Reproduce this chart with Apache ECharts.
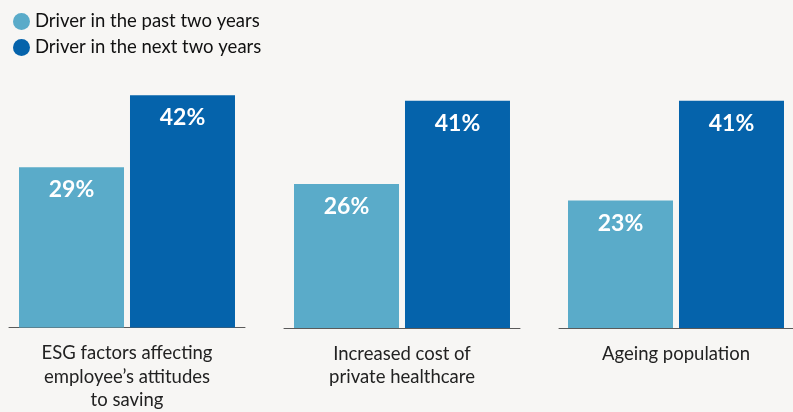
<!DOCTYPE html>
<html>
<head>
<meta charset="utf-8">
<script src="https://cdn.jsdelivr.net/npm/echarts@6/dist/echarts.min.js"></script>
<style>
  html, body { margin: 0; padding: 0; background: #f7f6f4; }
  #chart { width: 793px; height: 412px; }
</style>
</head>
<body>
<div id="chart"></div>
<script>
// Drivers of change: share of respondents, by period
const categories = [
  'ESG factors affecting\nemployee\u2019s attitudes\nto saving',
  'Increased cost of\nprivate healthcare',
  'Ageing population'
];
const seriesNames = ['Driver in the past two years', 'Driver in the next two years'];
const pastTwoYears = [29, 26, 23];
const nextTwoYears = [42, 41, 41];

const colors = ['#5aabc9', '#0563ab'];
const fontFamily = 'Lato, "Open Sans", sans-serif';

// one panel per category, so each gets its own baseline segment
const grids = [], xAxes = [], yAxes = [], series = [];
categories.forEach((cat, i) => {
  grids.push({ left: 9 + i * 275, top: 51, width: 236, height: 277 });
  xAxes.push({
    type: 'category', gridIndex: i, data: [cat],
    axisLine: { show: true, lineStyle: { color: '#5a5a5a', width: 1 } },
    axisTick: { show: false },
    axisLabel: { color: '#222', fontSize: 18.5, lineHeight: 23.5, margin: 14, fontFamily, interval: 0 }
  });
  yAxes.push({
    type: 'value', gridIndex: i, min: 0, max: 50, show: false, splitLine: { show: false }
  });
  [pastTwoYears, nextTwoYears].forEach((vals, s) => {
    series.push({
      type: 'bar', name: seriesNames[s], xAxisIndex: i, yAxisIndex: i,
      data: [vals[i]], barWidth: 105, barGap: '5.7%',
      itemStyle: { color: colors[s] },
      label: {
        show: true, position: 'insideTop', distance: 11,
        formatter: '{c}%', color: '#fff', fontSize: 23, fontWeight: 'bold', fontFamily
      },
      emphasis: { disabled: true }
    });
  });
});

const chart = echarts.init(document.getElementById('chart'));
chart.setOption({
  backgroundColor: '#f7f6f4',
  animation: false,
  color: colors,
  legend: {
    orient: 'vertical', left: 8, top: 7,
    icon: 'circle', itemWidth: 17, itemHeight: 17, itemGap: 7,
    textStyle: { color: '#111', fontSize: 18.5, fontFamily, padding: [0, 0, 0, 0] },
    data: seriesNames
  },
  grid: grids,
  xAxis: xAxes,
  yAxis: yAxes,
  series
});
</script>
</body>
</html>
